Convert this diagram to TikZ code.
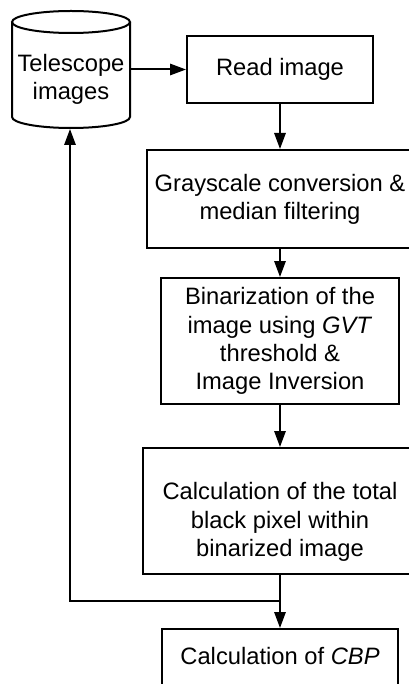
\documentclass[tikz,border=0pt]{standalone}
\usepackage{fontspec}
\setmainfont{Liberation Sans}
\usetikzlibrary{arrows.meta}
\tikzset{
  lbl/.style={align=center, inner sep=0pt, font=\fontsize{17.8pt}{21.2pt}\selectfont},
  box/.style={lbl, draw, line width=1.5pt, rectangle},
  flow/.style={line width=1.5pt, -{Triangle[length=12pt,width=8.5pt]}},
  link/.style={line width=1.5pt},
}
\begin{document}
\begin{tikzpicture}[x=0.75pt,y=-0.75pt]
\useasboundingbox (0,0) rectangle (409,684);
\clip (0,0) rectangle (409,684);
% image store drawn as a cylinder
\draw[link] (12,22) -- (12,117)
  arc[start angle=180, end angle=360, x radius=44.25pt, y radius=8.25pt]
  -- (130,22);
\draw[link] (71,22) ellipse[x radius=44.25pt, y radius=8.25pt];
\node[minimum width=88.5pt, minimum height=71.25pt, inner sep=0pt] (tel) at (71,69.5) {};
\node[lbl] (teltxt) at (71,79) {Telescope\\images};
\coordinate (telbase) at (70,129);
% processing steps
\node[box, minimum width=139.5pt, minimum height=50.25pt] (read) at (280,69.5) {Read image};
\node[box, minimum width=199.5pt, minimum height=73.5pt] (gray) at (280,199) {Grayscale conversion \&\\median filtering};
\node[box, minimum width=178.5pt, minimum height=94.5pt] (bin) at (280,341) {Binarization of the\\image using \textit{GVT}\\threshold \&\\Image Inversion};
\node[box, minimum width=205.5pt, minimum height=94.5pt] (calc) at (280,511) {};
\node[lbl] (calctxt) at (280,522) {Calculation of the total\\black pixel within\\binarized image};
\node[box, minimum width=177pt, minimum height=54pt] (cbp) at (280,665) {};
\node[lbl] (cbptxt) at (280,656) {Calculation of \textit{CBP}};
% connectors
\coordinate (junc) at (280,601);
\draw[flow] (tel.east) -- (read.west);
\draw[flow] (read.south) -- (gray.north);
\draw[flow] (gray.south) -- (bin.north);
\draw[flow] (bin.south) -- (calc.north);
\draw[link] (calc.south) -- (junc);
\draw[flow] (junc) -- (cbp.north);
\draw[flow] (junc) -| (telbase);
\end{tikzpicture}
\end{document}
